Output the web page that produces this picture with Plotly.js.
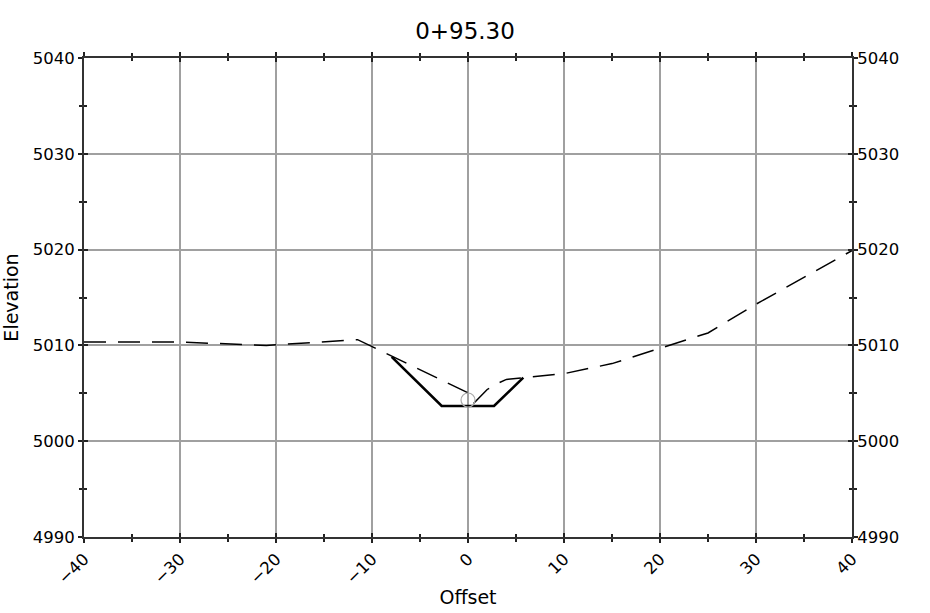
<!DOCTYPE html>
<html>
<head>
<meta charset="utf-8">
<script src="https://cdn.plot.ly/plotly-3.0.1.min.js"></script>
<style>html,body{margin:0;padding:0;background:#fff;}#chart{width:930px;height:613px;}</style>
</head>
<body>
<div id="chart"></div>
<script>
// Existing ground profile (dashed)
const groundOffset = [-40, -30, -21, -11.5, 0, 0.6, 2, 3, 4, 6.5, 10, 15, 20, 25, 30, 40];
const groundElev = [5010.35, 5010.35, 5010.0, 5010.6, 5005.05, 5003.95, 5005.4, 5006.0, 5006.45, 5006.7, 5007.05, 5008.1, 5009.7, 5011.3, 5014.3, 5019.9];
// Channel design section (solid)
const channelOffset = [-7.95, -2.74, 2.71, 5.76];
const channelElev = [5008.8, 5003.67, 5003.67, 5006.63];
// Centerline point marker
const pointOffset = [0];
const pointElev = [5004.3];
// Axis tick values
const xTicks = [-40, -30, -20, -10, 0, 10, 20, 30, 40];
const yTicks = [4990, 5000, 5010, 5020, 5030, 5040];
const titleText = "0+95.30";

const FONT = "DejaVu Sans, sans-serif";
const traces = [
  {x: groundOffset, y: groundElev, mode: "lines", type: "scatter",
   line: {color: "#000", width: 1.5, dash: "22px,12px"}, hoverinfo: "skip"},
  {x: channelOffset, y: channelElev, mode: "lines", type: "scatter",
   line: {color: "#000", width: 2.6}, hoverinfo: "skip"},
  {x: pointOffset, y: pointElev, mode: "markers", type: "scatter",
   marker: {symbol: "circle-open", size: 14, color: "#aaaaaa", line: {width: 1.2, color: "#aaaaaa"}}, hoverinfo: "skip"},
  {x: groundOffset, y: groundElev, xaxis: "x2", yaxis: "y2", mode: "lines", type: "scatter",
   opacity: 0, line: {width: 0}, hoverinfo: "skip", showlegend: false}
];

const axisCommon = {
  linecolor: "#333", linewidth: 2, zeroline: false,
  tickcolor: "#222", tickwidth: 2, ticklen: 4,
  tickfont: {family: FONT, size: 16.5, color: "#000"}
};

const layout = {
  width: 930, height: 613,
  margin: {l: 84, r: 78, t: 58, b: 76},
  paper_bgcolor: "#fff", plot_bgcolor: "#fff",
  showlegend: false,
  title: {text: titleText, x: 0.5, xanchor: "center", y: 0.962, yanchor: "top",
          font: {family: FONT, size: 23, color: "#000"}},
  xaxis: Object.assign({}, axisCommon, {
    range: [-40, 40], tickvals: xTicks, ticks: "outside", mirror: "ticks", showline: true,
    tickangle: -45, showgrid: true, gridcolor: "#a0a0a0", gridwidth: 2,
    minor: {dtick: 5, tick0: 0, ticks: "outside", ticklen: 3, tickcolor: "#222", tickwidth: 2, showgrid: false},
    title: {text: "Offset", font: {family: FONT, size: 19, color: "#000"}, standoff: 4}
  }),
  xaxis2: Object.assign({}, axisCommon, {
    overlaying: "x", anchor: "y2", side: "bottom", range: [-40, 40], tickvals: xTicks,
    ticks: "inside", mirror: "ticks", showline: true, showticklabels: false, showgrid: false,
    minor: {dtick: 5, tick0: 0, ticks: "inside", ticklen: 3, tickcolor: "#222", tickwidth: 2, showgrid: false}
  }),
  yaxis: Object.assign({}, axisCommon, {
    range: [4990, 5040], tickvals: yTicks, ticks: "outside", mirror: "ticks", showline: true,
    showgrid: true, gridcolor: "#a0a0a0", gridwidth: 2,
    minor: {dtick: 5, tick0: 0, ticks: "outside", ticklen: 3, tickcolor: "#222", tickwidth: 2, showgrid: false},
    title: {text: "Elevation", font: {family: FONT, size: 19, color: "#000"}, standoff: 10}
  }),
  yaxis2: Object.assign({}, axisCommon, {
    overlaying: "y", anchor: "x2", side: "right", range: [4990, 5040], tickvals: yTicks,
    ticks: "inside", mirror: "ticks", showline: true, showticklabels: true, showgrid: false,
    minor: {dtick: 5, tick0: 0, ticks: "inside", ticklen: 3, tickcolor: "#222", tickwidth: 2, showgrid: false}
  })
};

Plotly.newPlot("chart", traces, layout, {staticPlot: true, displayModeBar: false});
</script>
</body>
</html>
